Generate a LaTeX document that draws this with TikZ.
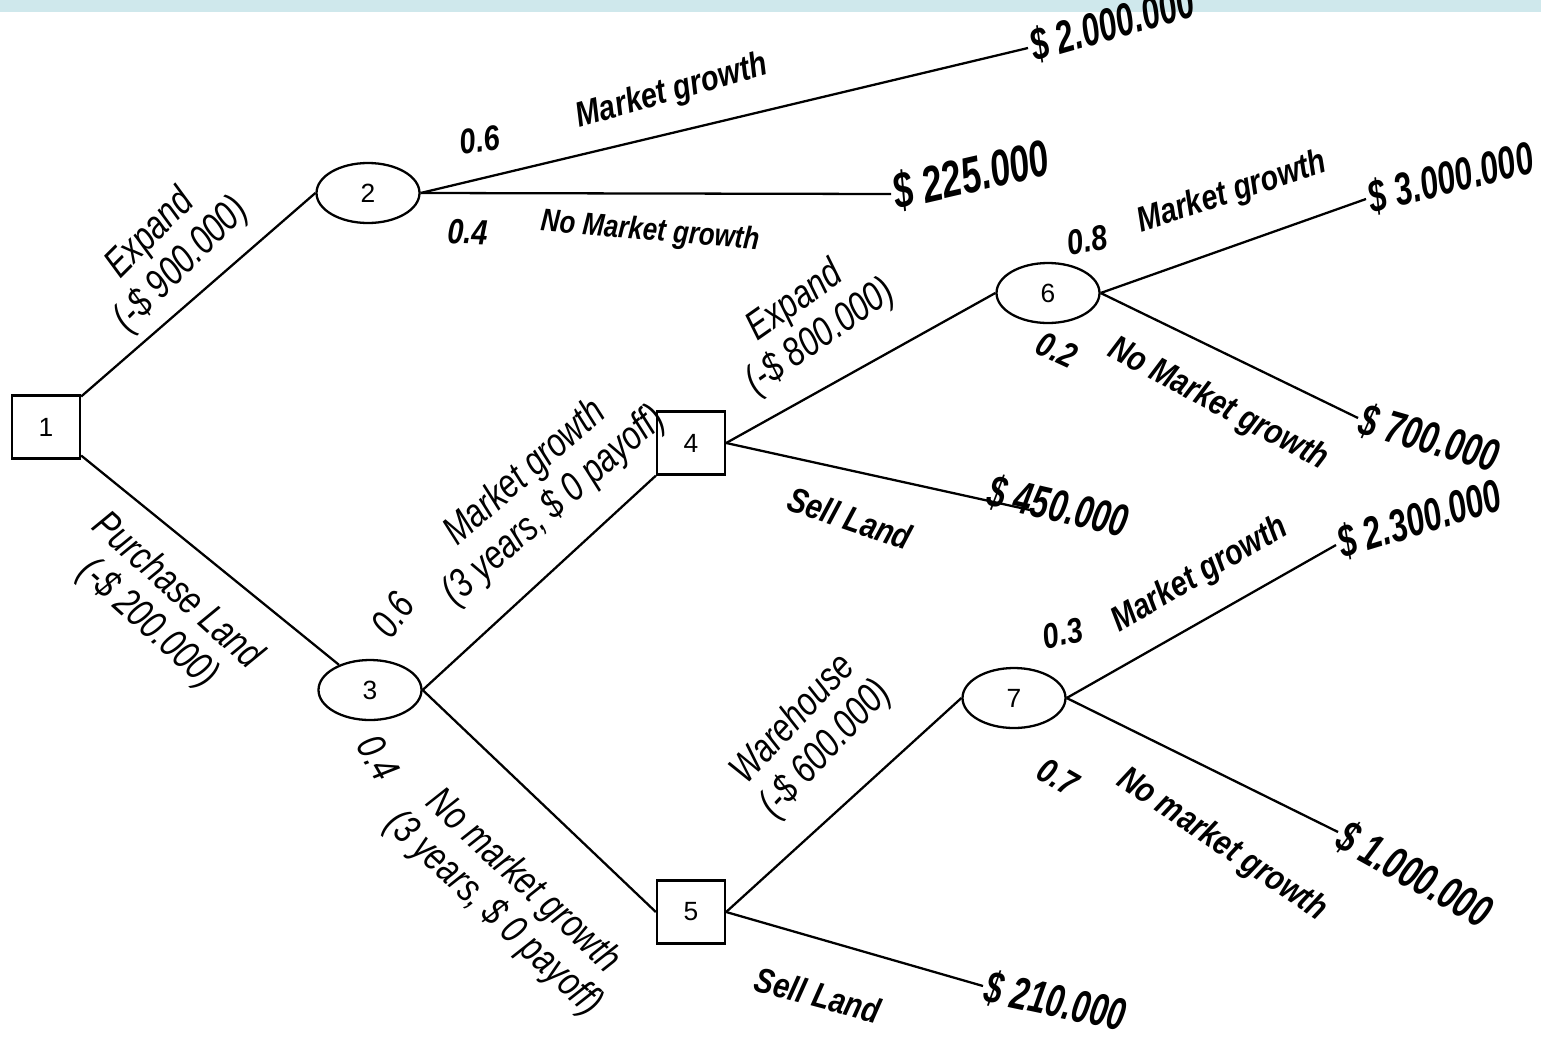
\documentclass[tikz,border=0pt]{standalone}
\usepackage{fontspec}
\usepackage{tikz}
\usetikzlibrary{shapes.geometric}
\newfontfamily\treefont[FakeStretch=0.82]{Liberation Sans}
\newfontfamily\labelfont[FakeStretch=0.78]{Liberation Sans}
\newfontfamily\payfont[FakeStretch=0.7]{Liberation Sans}
\newfontfamily\numfont{Liberation Sans}
\definecolor{bandcyan}{RGB}{207,232,236}

\begin{document}
\begin{tikzpicture}[x=0.2mm,y=-0.2mm,line width=1.3pt,
    decision/.style={draw,rectangle,minimum width=13.6mm,minimum height=12.6mm,font=\numfont\fontsize{15}{17}\selectfont},
    chance/.style={draw,ellipse,minimum width=20.6mm,minimum height=12mm,inner sep=0pt,font=\numfont\fontsize{15}{17}\selectfont},
    lbl/.style={inner sep=1pt,align=center,font=\labelfont\itshape\fontsize{23}{25}\selectfont},
    blbl/.style={inner sep=1pt,align=center,font=\treefont\bfseries\itshape\fontsize{20}{22}\selectfont},
    payoff/.style={inner sep=1pt,anchor=west,font=\payfont\bfseries\itshape\fontsize{26}{28}\selectfont}]
    \useasboundingbox (0,0) rectangle (1541,1039);
    \fill[bandcyan] (0,0) rectangle (1541,12);

    % decision and chance nodes
    \node[decision] (n1) at (46,427) {1};
    \node[chance] (n2) at (368,193) {2};
    \node[chance] (n3) at (370,690) {3};
    \node[decision] (n4) at (691,443) {4};
    \node[decision] (n5) at (691,912) {5};
    \node[chance] (n6) at (1048,293) {6};
    \node[chance] (n7) at (1014,698) {7};

    % payoffs
    \node[payoff,rotate=16] (p2000) at (1028,48) {\$ 2.000.000};
    \node[payoff,rotate=13,font=\payfont\bfseries\itshape\fontsize{29}{31}\selectfont] (p225) at (891,194) {\$ 225.000};
    \node[payoff,rotate=14] (p3000) at (1366,199) {\$ 3.000.000};
    \node[payoff,rotate=-16] (p700) at (1358,418) {\$ 700.000};
    \node[payoff,rotate=-13] (p450) at (986,490) {\$ 450.000};
    \node[payoff,rotate=17] (p2300) at (1336,545) {\$ 2.300.000};
    \node[payoff,rotate=-29] (p1000) at (1338,832) {\$ 1.000.000};
    \node[payoff,rotate=-12] (p210) at (983,986) {\$ 210.000};
    \coordinate (e450) at (1030,510);

    % branches
    \draw (n1) -- (n2.west);
    \draw (n1) -- (n3);
    \draw (n2.east) -- (p2000.west);
    \draw (n2.east) -- (p225.west);
    \draw (n3.east) -- (n4.south west);
    \draw (n3.east) -- (n5.west);
    \draw (n4.east) -- (n6.west);
    \draw (n4.east) -- (e450);
    \draw (n6.east) -- (p3000.west);
    \draw (n6.east) -- (p700.west);
    \draw (n5.east) -- (n7.west);
    \draw (n5.east) -- (p210.west);
    \draw (n7.east) -- (p2300.west);
    \draw (n7.east) -- (p1000.west);

    % branch labels
    \node[lbl,rotate=45] (l12) at (166,250) {Expand\\(-\$ 900.000)};
    \node[blbl,rotate=8] (q26) at (480,140) {0.6};
    \node[blbl,rotate=16] (l2a) at (672,92) {Market growth};
    \node[blbl,rotate=-2] (q24) at (468,232) {0.4};
    \node[blbl,rotate=-5,font=\treefont\bfseries\itshape\fontsize{18}{20}\selectfont] (l2b) at (650,232) {No Market growth};
    \node[lbl,rotate=-42] (l13) at (162,608) {Purchase Land\\(-\$ 200.000)};
    \node[lbl,rotate=41] (l34) at (540,490) {Market growth\\(3 years, \$ 0 payoff)};
    \node[lbl,rotate=55] (q36) at (393,615) {0.6};
    \node[lbl,rotate=-60] (q34) at (378,758) {0.4};
    \node[lbl,rotate=-43] (l35) at (508,898) {No market growth\\(3 years, \$ 0 payoff)};
    \node[lbl,rotate=35] (l46) at (808,320) {Expand\\(-\$ 800.000)};
    \node[blbl,rotate=-19] (l4s) at (850,518) {Sell Land};
    \node[blbl,rotate=10] (q68) at (1087,240) {0.8};
    \node[blbl,rotate=18] (l6a) at (1232,193) {Market growth};
    \node[blbl,rotate=-25] (q62) at (1057,350) {0.2};
    \node[blbl,rotate=-28] (l6b) at (1218,405) {No Market growth};
    \node[lbl,rotate=47] (l57) at (810,735) {Warehouse\\(-\$ 600.000)};
    \node[blbl,rotate=-15] (l5s) at (818,995) {Sell Land};
    \node[blbl,rotate=12] (q73) at (1063,633) {0.3};
    \node[blbl,rotate=30] (l7a) at (1200,575) {Market growth};
    \node[blbl,rotate=-30] (q77) at (1058,777) {0.7};
    \node[blbl,rotate=-34] (l7b) at (1222,845) {No market growth};
\end{tikzpicture}
\end{document}
